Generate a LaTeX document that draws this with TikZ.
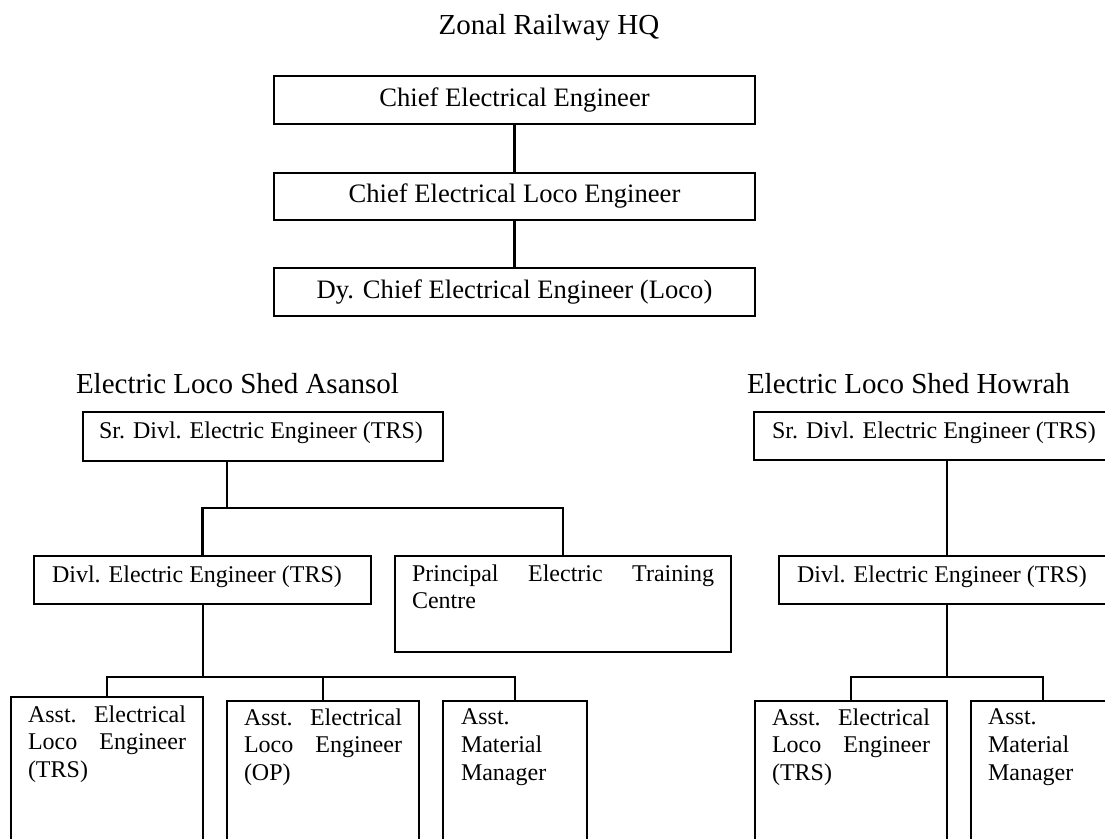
\documentclass[tikz,border=0pt]{standalone}
\usepackage{fontspec}
\setmainfont{Liberation Serif}
\newcommand\fsbox{\fontsize{24pt}{27.6pt}\selectfont}
\newcommand\fstopbox{\fontsize{26.6pt}{30pt}\selectfont}
\newcommand\fslabel{\fontsize{29pt}{33pt}\selectfont}
\tikzset{
  box/.style={draw, line width=2.2pt, rectangle, inner sep=0pt, outer sep=0pt},
  topbox/.style={box, minimum width=481pt, font=\fstopbox},
  txt/.style={inner sep=0pt, outer sep=0pt, font=\fsbox, anchor=base west},
  para/.style={inner sep=0pt, outer sep=0pt, font=\fsbox, anchor=north west, align=left},
  heading/.style={inner sep=0pt, outer sep=0pt, font=\fslabel},
  conn/.style={line width=2.2pt, line cap=rect}
}
\begin{document}
\begin{tikzpicture}[x=1pt, y=-1pt]
\fill[white] (0,0) rectangle (1105,838);
\clip (0,0) rectangle (1105,838);

% ---------- Zonal HQ ----------
\node[heading, anchor=base] (title) at (549,34) {Zonal Railway HQ};
\node[topbox, minimum height=48pt] (cee) at (514.5,100) {Chief Electrical Engineer};
\node[topbox, minimum height=47pt] (cele) at (514.5,196.5) {Chief Electrical Loco Engineer};
\node[topbox, minimum height=48pt] (dcee) at (514.5,292) {Dy. Chief Electrical Engineer (Loco)};
\draw[conn] (cee.south) -- (cele.north);
\draw[conn] (cele.south) -- (dcee.north);

% ---------- Asansol ----------
\node[heading, anchor=base west] (asn) at (76,393) {Electric Loco Shed Asansol};
\node[box, minimum width=360pt, minimum height=49pt, anchor=north west] (sra) at (83,412) {};
\node[txt] (sratxt) at (99,438) {Sr. Divl. Electric Engineer (TRS)};

\node[box, minimum width=337pt, minimum height=48pt, anchor=north west] (da) at (34,556) {};
\node[txt] (datxt) at (52,582) {Divl. Electric Engineer (TRS)};

\node[box, minimum width=336pt, minimum height=96pt, anchor=north west] (pa) at (395,556) {};
\node[para, text width=302pt] (patxt) at (412,564.6) {Principal\hfill Electric\hfill Training\\Centre};

\node[box, minimum width=192pt, minimum height=240pt, anchor=north] (a1) at (107,697) {};
\node[para, text width=158pt] (a1txt) at (28,705.6) {Asst.\hfill Electrical\\Loco\hfill Engineer\\(TRS)};
\node[box, minimum width=192pt, minimum height=240pt, anchor=north] (a2) at (323,701) {};
\node[para, text width=158pt] (a2txt) at (244,708.6) {Asst.\hfill Electrical\\Loco\hfill Engineer\\(OP)};
\node[box, minimum width=144pt, minimum height=240pt, anchor=north] (a3) at (515,701) {};
\node[para, text width=110pt] (a3txt) at (461,709) {Asst.\\Material\\Manager};

\coordinate (jA) at (227,508);
\coordinate (kA) at (203,677);
\draw[conn] (sra.south -| jA) -- (jA);
\draw[conn] (da.north) -- (da.north |- jA) -- (pa.north |- jA) -- (pa.north);
\draw[conn] (da.south -| kA) -- (kA);
\draw[conn] (a1.north) -- (a1.north |- kA) -- (a3.north |- kA) -- (a3.north);
\draw[conn] (a2.north) -- (a2.north |- kA);

% ---------- Howrah ----------
\node[heading, anchor=base west] (hwh) at (747,393) {Electric Loco Shed Howrah};
\node[box, minimum width=360pt, minimum height=48pt, anchor=north west] (srh) at (754,412) {};
\node[txt] (srhtxt) at (772,438) {Sr. Divl. Electric Engineer (TRS)};
\node[box, minimum width=337pt, minimum height=48pt, anchor=north west] (dh) at (779,556) {};
\node[txt] (dhtxt) at (797,582) {Divl. Electric Engineer (TRS)};

\node[box, minimum width=192pt, minimum height=240pt, anchor=north] (h1) at (851,701) {};
\node[para, text width=158pt] (h1txt) at (772,708.6) {Asst.\hfill Electrical\\Loco\hfill Engineer\\(TRS)};
\node[box, minimum width=144pt, minimum height=240pt, anchor=north] (h2) at (1043,701) {};
\node[para, text width=110pt] (h2txt) at (988,709) {Asst.\\Material\\Manager};

\coordinate (jH) at (947,677);
\draw[conn] (srh.south -| jH) -- (dh.north -| jH);
\draw[conn] (dh.south -| jH) -- (jH);
\draw[conn] (h1.north) -- (h1.north |- jH) -- (h2.north |- jH) -- (h2.north);
\end{tikzpicture}
\end{document}
